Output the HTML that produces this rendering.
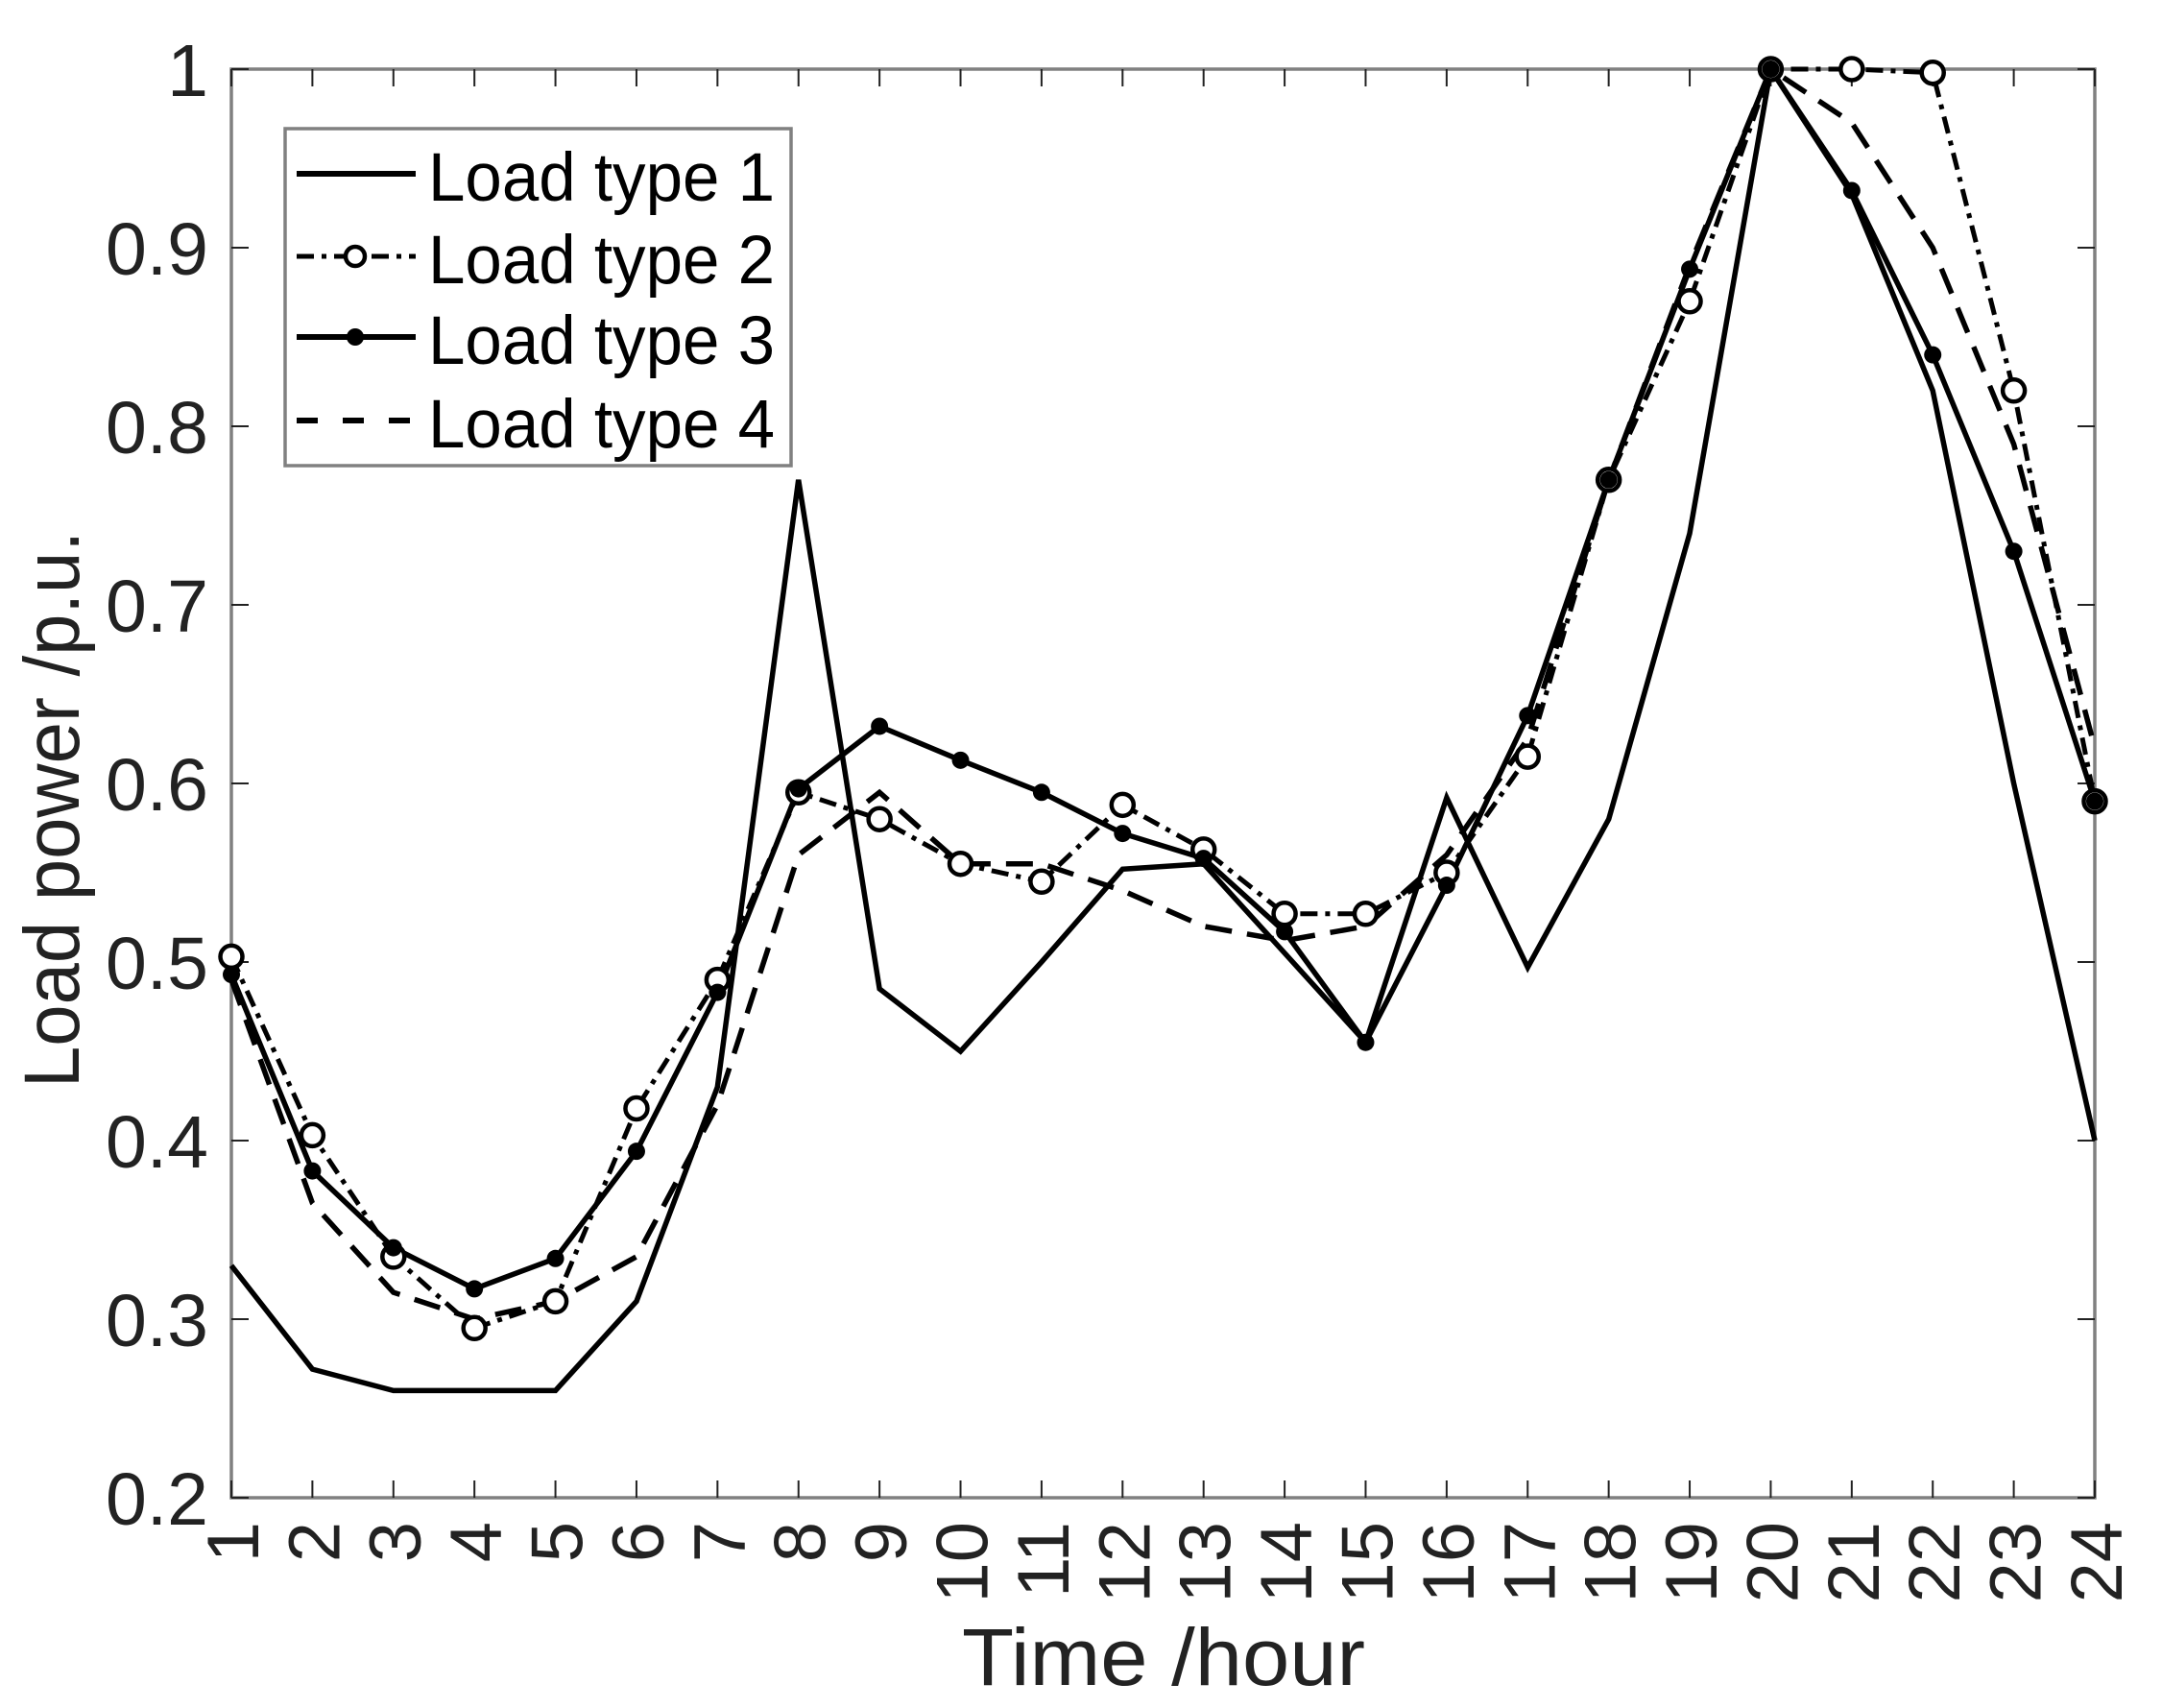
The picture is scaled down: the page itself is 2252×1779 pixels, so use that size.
<!DOCTYPE html>
<html><head><meta charset="utf-8"><style>
html,body{margin:0;padding:0;background:#fff;}
svg{display:block;}
text{font-family:"Liberation Sans",sans-serif;}
</style></head><body>
<svg id="s" width="2252" height="1779" viewBox="0 0 2252 1779" xmlns="http://www.w3.org/2000/svg"></svg>
<script>
const L=241,R=2182,T=72,B=1560;
const X=i=>L+(i-1)*(R-L)/23, Y=v=>B-(v-0.2)*(B-T)/0.8;
const d1=[0.33,0.272,0.26,0.26,0.26,0.31,0.43,0.77,0.485,0.45,0.5,0.552,0.555,0.505,0.455,0.592,0.497,0.58,0.74,1.0,0.93,0.82,0.6,0.4];
const d2=[0.503,0.403,0.335,0.295,0.31,0.418,0.49,0.595,0.58,0.555,0.545,0.588,0.563,0.527,0.527,0.55,0.615,0.77,0.87,1.0,1.0,0.998,0.82,0.59];
const d3=[0.493,0.383,0.34,0.317,0.334,0.394,0.483,0.597,0.632,0.613,0.595,0.572,0.558,0.517,0.455,0.543,0.638,0.77,0.888,1.0,0.932,0.84,0.73,0.59];
const d4=[0.49,0.365,0.315,0.3,0.31,0.335,0.42,0.56,0.595,0.555,0.555,0.54,0.52,0.512,0.52,0.56,0.625,0.77,0.89,1.0,0.97,0.9,0.79,0.62];
let s='';
s+=`<rect x="${L}" y="${T}" width="${R-L}" height="${B-T}" fill="#fff" stroke="#808080" stroke-width="3.5"/>`;
for(let i=1;i<=24;i++){const x=X(i);
 s+=`<line x1="${x}" y1="${B}" x2="${x}" y2="${B-18}" stroke="#222" stroke-width="2"/><line x1="${x}" y1="${T}" x2="${x}" y2="${T+18}" stroke="#222" stroke-width="2"/>`;
 s+=`<text transform="translate(${x+28},1585) rotate(-90)" text-anchor="end" font-size="76" fill="#222">${i}</text>`;}
for(let k=2;k<=10;k++){const v=k/10,y=Y(v);
 s+=`<line x1="${L}" y1="${y}" x2="${L+18}" y2="${y}" stroke="#222" stroke-width="2"/><line x1="${R}" y1="${y}" x2="${R-18}" y2="${y}" stroke="#222" stroke-width="2"/>`;
 s+=`<text x="${L-24}" y="${y+28}" text-anchor="end" font-size="77" fill="#222">${k==10?'1':v.toFixed(1)}</text>`;}
const pts=d=>d.map((v,i)=>X(i+1).toFixed(1)+','+Y(v).toFixed(1)).join(' ');
s+=`<polyline points="${pts(d4)}" fill="none" stroke="#000" stroke-width="5.5" stroke-dasharray="28,16"/>`;
s+=`<polyline points="${pts(d1)}" fill="none" stroke="#000" stroke-width="5.5"/>`;
s+=`<polyline points="${pts(d2)}" fill="none" stroke="#000" stroke-width="5" stroke-dasharray="18,8,5,8"/>`;
s+=`<polyline points="${pts(d3)}" fill="none" stroke="#000" stroke-width="5.5"/>`;
d2.forEach((v,i)=>{s+=`<circle cx="${X(i+1)}" cy="${Y(v)}" r="11.5" fill="#fff" stroke="#000" stroke-width="4.5"/>`;});
d3.forEach((v,i)=>{s+=`<circle cx="${X(i+1)}" cy="${Y(v)}" r="9" fill="#000"/>`;});
s+=`<rect x="297" y="134" width="527" height="351" fill="#fff" stroke="#808080" stroke-width="3.5"/>`;
const rows=[181,267,351,438];
rows.forEach((y,k)=>{
 if(k==0)s+=`<line x1="309" y1="${y}" x2="433" y2="${y}" stroke="#000" stroke-width="6"/>`;
 if(k==1){s+=`<line x1="309" y1="${y}" x2="433" y2="${y}" stroke="#000" stroke-width="5" stroke-dasharray="18,8,5,8"/><circle cx="370" cy="${y}" r="10" fill="#fff" stroke="#000" stroke-width="4.5"/>`;}
 if(k==2){s+=`<line x1="309" y1="${y}" x2="433" y2="${y}" stroke="#000" stroke-width="6"/><circle cx="370" cy="${y}" r="9" fill="#000"/>`;}
 if(k==3)s+=`<line x1="309" y1="${y}" x2="433" y2="${y}" stroke="#000" stroke-width="6" stroke-dasharray="22,26"/>`;
 s+=`<text x="446" y="${y+28}" font-size="71" fill="#000" textLength="361" lengthAdjust="spacingAndGlyphs">Load type ${k+1}</text>`;
});
s+=`<text transform="translate(82,843) rotate(-90)" text-anchor="middle" font-size="82" fill="#222" textLength="580" lengthAdjust="spacingAndGlyphs">Load power /p.u.</text>`;
s+=`<text x="1212" y="1755" text-anchor="middle" font-size="84" fill="#222" textLength="420" lengthAdjust="spacingAndGlyphs">Time /hour</text>`;
document.getElementById('s').innerHTML=s;
</script>
</body></html>
